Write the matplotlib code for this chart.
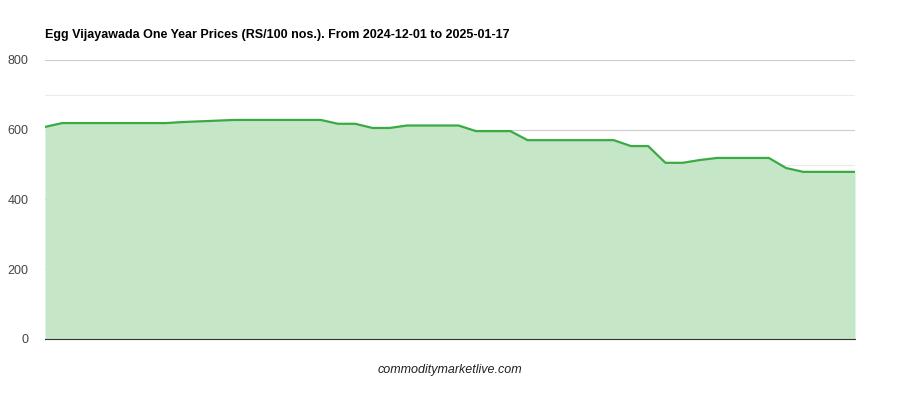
import matplotlib
matplotlib.use('Agg')
import matplotlib.pyplot as plt
import numpy as np

plt.rcParams['font.family'] = ['Liberation Sans', 'DejaVu Sans']

# daily prices 2024-12-01 .. 2025-01-17
prices = [608, 619, 619, 619, 619, 619, 619, 619, 622, 624,
          626, 628, 628, 628, 628, 628, 628, 617, 617, 605,
          605, 612, 612, 612, 612, 596, 596, 596, 570, 570,
          570, 570, 570, 570, 553, 553, 505, 505, 513, 519,
          519, 519, 519, 490, 479, 479, 479, 479]
title = 'Egg Vijayawada One Year Prices (RS/100 nos.). From 2024-12-01 to 2025-01-17'

days = np.arange(len(prices))

fig = plt.figure(figsize=(9, 4), dpi=100)
ax = fig.add_axes([0.05, 0.153, 0.9, 0.697])

ax.fill_between(days, prices, 0, color='#c5e6c7', linewidth=0)
ax.plot(days, prices, color='#3aaa44', linewidth=1.6)

ax.set_xlim(0, len(prices) - 1)
ax.set_ylim(0, 800)
ax.set_yticks([0, 200, 400, 600, 800])
ax.set_yticks([100, 300, 500, 700], minor=True)
ax.set_xticks([])
ax.grid(True, axis='y', which='major', color='#cccccc', linewidth=0.8)
ax.grid(True, axis='y', which='minor', color='#ebebeb', linewidth=0.8)
ax.set_axisbelow(True)
ax.tick_params(axis='y', which='both', length=0, labelsize=9, colors='#444444', pad=12)
for s in ['top', 'right', 'left']:
    ax.spines[s].set_visible(False)
ax.spines['bottom'].set_color('#333333')

fig.text(0.05, 0.912, title, fontsize=9, fontweight='bold', ha='left', va='center')
fig.text(0.5, 0.075, 'commoditymarketlive.com', fontsize=9, style='italic',
         ha='center', va='center', color='#222222')

fig.savefig('out.png', dpi=100)
